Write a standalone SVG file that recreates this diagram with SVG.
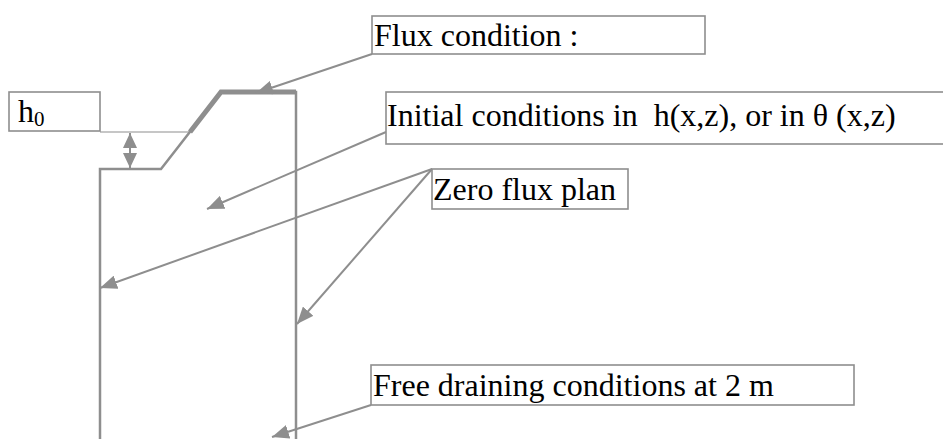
<svg xmlns="http://www.w3.org/2000/svg" width="943" height="439" viewBox="0 0 943 439">
  <style>
    .box { fill: #ffffff; stroke: #8e8e8e; stroke-width: 1.6; }
    .lbl { font-family: "Liberation Serif", "Times New Roman", serif; font-size: 32px; fill: #000000; }
    .con { fill: none; stroke: #8e8e8e; stroke-width: 2; }
    .wall { fill: none; stroke: #8e8e8e; stroke-width: 2.5; }
    .thick { fill: none; stroke: #8e8e8e; stroke-width: 5; }
  </style>
  <defs>
    <marker id="arr" markerUnits="userSpaceOnUse" markerWidth="18" markerHeight="14" refX="17" refY="7" orient="auto">
      <path d="M0,0 L17,7 L0,14 z" fill="#8e8e8e"/>
    </marker>
    <marker id="arrS" markerUnits="userSpaceOnUse" markerWidth="16" markerHeight="16" refX="15" refY="7" orient="auto-start-reverse">
      <path d="M0,0 L15,7 L0,14 z" fill="#8e8e8e"/>
    </marker>
  </defs>
  <rect width="943" height="439" fill="#ffffff"/>

  <g id="soil-profile">
    <line x1="100" y1="132" x2="190" y2="132" stroke="#8e8e8e" stroke-width="1.2"/>
    <path class="wall" d="M100,439 L100,169 L161,169 L221,92 L296,92 L296,439"/>
    <path class="thick" d="M190,132 L221,92 L296,92"/>
  </g>

  <g id="connectors">
    <line class="con" x1="372" y1="54" x2="256" y2="93" marker-end="url(#arr)"/>
    <line class="con" x1="386" y1="132" x2="207" y2="209" marker-end="url(#arr)"/>
    <line class="con" x1="432" y1="169" x2="100" y2="288" marker-end="url(#arr)"/>
    <line class="con" x1="432" y1="169" x2="297" y2="324" marker-end="url(#arr)"/>
    <line class="con" x1="371" y1="405" x2="272" y2="437" marker-end="url(#arr)"/>
    <line class="con" x1="130" y1="133" x2="130" y2="168" marker-start="url(#arrS)" marker-end="url(#arrS)"/>
  </g>

  <g id="node-h0">
    <rect class="box" x="9" y="92" width="91" height="39"/>
    <text class="lbl" x="18" y="122">h<tspan font-size="21" dy="4">0</tspan></text>
  </g>

  <g id="node-flux">
    <rect class="box" x="372" y="16" width="333" height="38"/>
    <text class="lbl" x="374" y="46">Flux condition :</text>
  </g>

  <g id="node-initial">
    <rect class="box" x="386" y="92" width="570" height="52"/>
    <text class="lbl" x="387" y="126" xml:space="preserve">Initial conditions in  h(x,z), or in θ (x,z)</text>
  </g>

  <g id="node-zero-flux">
    <rect class="box" x="432" y="169" width="196" height="40"/>
    <text class="lbl" x="433" y="200">Zero flux plan</text>
  </g>

  <g id="node-free-draining">
    <rect class="box" x="371" y="365" width="483" height="40"/>
    <text class="lbl" x="373" y="396">Free draining conditions at 2 m</text>
  </g>
</svg>
